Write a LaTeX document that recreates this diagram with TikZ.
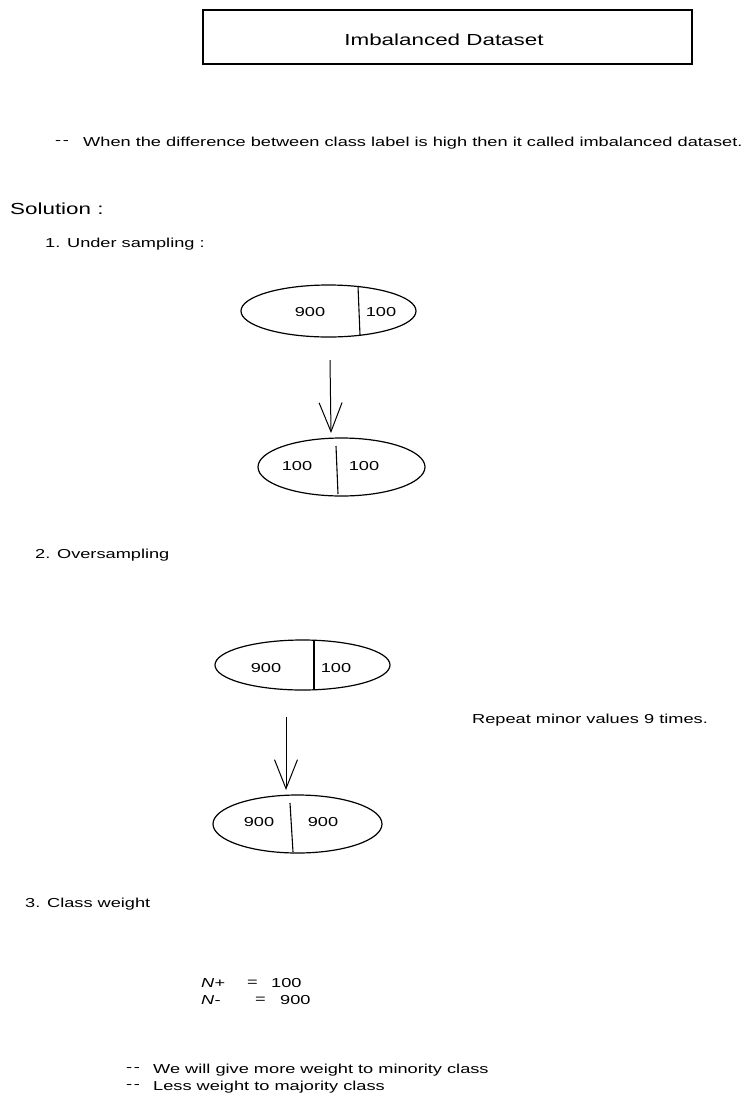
\documentclass[tikz,border=0pt]{standalone}
\usepackage{fontspec}
\setmainfont{Liberation Sans}[FakeStretch=1.4,Ligatures=NoCommon]
\usetikzlibrary{shapes.geometric,arrows.meta}
\newcommand{\dd}{-\kern1.5pt-}
\begin{document}
\begin{tikzpicture}[x=1pt,y=-1pt,
  txt/.style={anchor=west,inner sep=0pt,font=\fontsize{13}{15}\selectfont},
  big/.style={anchor=west,inner sep=0pt,font=\fontsize{16}{18}\selectfont},
  num/.style={inner sep=0pt,font=\fontsize{13}{15}\selectfont},
  oval/.style={draw,ellipse,line width=1.2pt,inner sep=0pt},
  divider/.style={line width=1.1pt},
  flow/.style={line width=1pt,-{Straight Barb[length=29pt,width=23pt,line width=1pt]}},
  box/.style={draw,line width=1.2pt,rectangle,inner sep=0pt}
]
\useasboundingbox (0,0) rectangle (748,1112);
% title
\node[box,minimum width=489pt,minimum height=54pt] (title) at (447.5,37) {};
\node[inner sep=0pt,font=\fontsize{16}{18}\selectfont] (titletext) at (444,40) {Imbalanced Dataset};
% intro
\node[txt] (d0) at (55,143) {\dd};
\node[txt] (intro) at (83,143) {When the difference between class label is high then it called imbalanced dataset.};
\node[big] (sol) at (10,209) {Solution :};
\node[txt] (s1) at (45,244) {1. Under sampling :};
% under sampling
\node[oval,minimum width=175pt,minimum height=52pt] (e1) at (328.5,311) {};
\draw[divider] (358,286) -- (360,335);
\node[num] (e1a) at (310,312) {900};
\node[num] (e1b) at (381,312) {100};
\coordinate (a1s) at (330,360);
\coordinate (a1e) at (331,433);
\draw[flow] (a1s) -- (a1e);
\node[oval,minimum width=167pt,minimum height=58pt] (e2) at (341.5,467) {};
\draw[divider] (336,446) -- (338,494);
\node[num] (e2a) at (297,466) {100};
\node[num] (e2b) at (364,466) {100};
% oversampling
\node[txt] (s2) at (35,555) {2. Oversampling};
\node[oval,minimum width=175pt,minimum height=50pt] (e3) at (302.5,665) {};
\draw[divider] (314,640) -- (314,690);
\node[num] (e3a) at (266,668) {900};
\node[num] (e3b) at (336,668) {100};
\coordinate (a2s) at (286,717);
\coordinate (a2e) at (286,790);
\draw[flow] (a2s) -- (a2e);
\node[oval,minimum width=169pt,minimum height=58pt] (e4) at (297.5,824) {};
\draw[divider] (290,803) -- (293,852);
\node[num] (e4a) at (259,822) {900};
\node[num] (e4b) at (323,822) {900};
\node[txt] (rep) at (472,720) {Repeat minor values 9 times.};
% class weight
\node[txt] (s3) at (25,904) {3. Class weight};
\node[txt] (np) at (201,983) {\textit{N+}};
\node[txt] (eq1) at (247,983) {=};
\node[txt] (v1) at (271,983) {100};
\node[txt] (nm) at (201,1000) {\textit{N-}};
\node[txt] (eq2) at (255,1000) {=};
\node[txt] (v2) at (280,1000) {900};
\node[txt] (d1) at (126,1070) {\dd};
\node[txt] (l1) at (153,1070) {We will give more weight to minority class};
\node[txt] (d2) at (126,1087) {\dd};
\node[txt] (l2) at (153,1087) {Less weight to majority class};
\end{tikzpicture}
\end{document}
